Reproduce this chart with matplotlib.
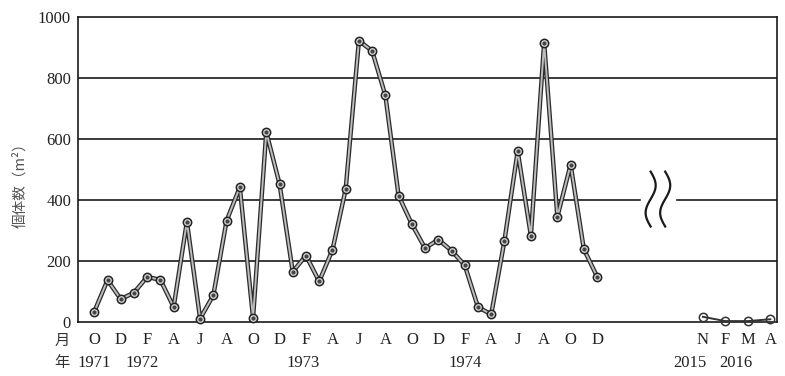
import numpy as np
import matplotlib
matplotlib.use("Agg")
import matplotlib.pyplot as plt
import matplotlib.transforms as mtransforms

plt.rcParams['font.family'] = ['Liberation Serif', 'Noto Sans CJK JP', 'DejaVu Sans']

# -------------------------------
# data (Oct 1971 .. Dec 1974, monthly) and 2015-2016
# -------------------------------
counts_70s = [34, 137, 75, 96, 148, 138, 49, 329, 11, 88, 332, 442, 14,
              623, 453, 165, 218, 133, 236, 435, 922, 889, 743, 414, 321,
              242, 270, 234, 186, 49, 25, 266, 560, 283, 915, 345, 516,
              239, 149]
counts_2015 = [17, 3, 3, 9]

month_labels_70s = ['O', 'D', 'F', 'A', 'J', 'A', 'O', 'D', 'F', 'A',
                    'J', 'A', 'O', 'D', 'F', 'A', 'J', 'A', 'O', 'D']
month_labels_2015 = ['N', 'F', 'M', 'A']
year_labels = ['1971', '1972', '1973', '1974', '2015', '2016']
year_pos = [0, 3.6, 15.8, 28.0, 45.0, 48.5]

x70 = np.arange(len(counts_70s))
x15 = 46 + np.arange(len(counts_2015)) * 1.7

fig = plt.figure(figsize=(7.85, 3.76), dpi=100)
ax = fig.add_axes([78 / 785, 1 - 322 / 376, 699 / 785, 305 / 376])
ax.set_xlim(-1.23, 51.6)
ax.set_ylim(0, 1000)

# gridlines
for v in [200, 400, 600, 800]:
    ax.axhline(v, color='#1a1a1a', lw=1.2, zorder=1)

# break mark over the 400 line
bx = 42.6
ax.add_patch(plt.Rectangle((bx - 1.3, 300), 2.6, 200, color='white', zorder=2))
t = np.linspace(-0.5, 0.5, 60)
for dx in [-0.55, 0.55]:
    ax.plot(bx + dx - 0.38 * np.sin(2 * np.pi * t), 403 - 180 * t,
            color='#1a1a1a', lw=1.6, zorder=3)

# 1970s series: double-line look
ax.plot(x70, counts_70s, color='#2a2a2a', lw=3.2, zorder=4,
        solid_capstyle='round', clip_on=False)
ax.plot(x70, counts_70s, color='#bdbdbd', lw=1.4, zorder=5,
        solid_capstyle='round', clip_on=False)
ax.plot(x70, counts_70s, 'o', ms=6, mfc='#d6d6d6', mec='#222222', mew=1.1,
        zorder=6, clip_on=False)
ax.plot(x70, counts_70s, 'o', ms=2, color='#444444', zorder=7, clip_on=False)

# 2015-2016 series: thin line, hollow markers
ax.plot(x15, counts_2015, color='#333333', lw=1.4, zorder=4, clip_on=False)
ax.plot(x15, counts_2015, 'o', ms=6, mfc='none', mec='#333333', mew=1.1,
        zorder=6, clip_on=False)

# axes styling
for s in ax.spines.values():
    s.set_linewidth(1.2)
    s.set_color('#1a1a1a')
ax.set_xticks([])
ax.set_yticks([0, 200, 400, 600, 800, 1000])
ax.tick_params(axis='y', length=0, pad=5, labelsize=12, labelcolor='#222222')

# month and year rows
trans = mtransforms.blended_transform_factory(ax.transData, ax.transAxes)
for i, lab in enumerate(month_labels_70s):
    ax.text(x70[0] + 2 * i, -0.059, lab, transform=trans, ha='center',
            va='center', fontsize=12, color='#222222')
for xi, lab in zip(x15, month_labels_2015):
    ax.text(xi, -0.059, lab, transform=trans, ha='center', va='center',
            fontsize=12, color='#222222')
for xi, lab in zip(year_pos, year_labels):
    ax.text(xi, -0.134, lab, transform=trans, ha='center', va='center',
            fontsize=12, color='#222222')

fig.text(62 / 785, 1 - 340 / 376, '月', ha='center', va='center',
         fontsize=11, family=['Noto Sans CJK JP'], color='#333333')
fig.text(62 / 785, 1 - 363 / 376, '年', ha='center', va='center',
         fontsize=11, family=['Noto Sans CJK JP'], color='#333333')
fig.text(20 / 785, 1 - 182 / 376, '個体数（m²）', rotation=90, ha='center',
         va='center', fontsize=10.5, family=['Noto Sans CJK JP', 'DejaVu Sans'],
         color='#555555')

fig.savefig('out.png', dpi=100)
